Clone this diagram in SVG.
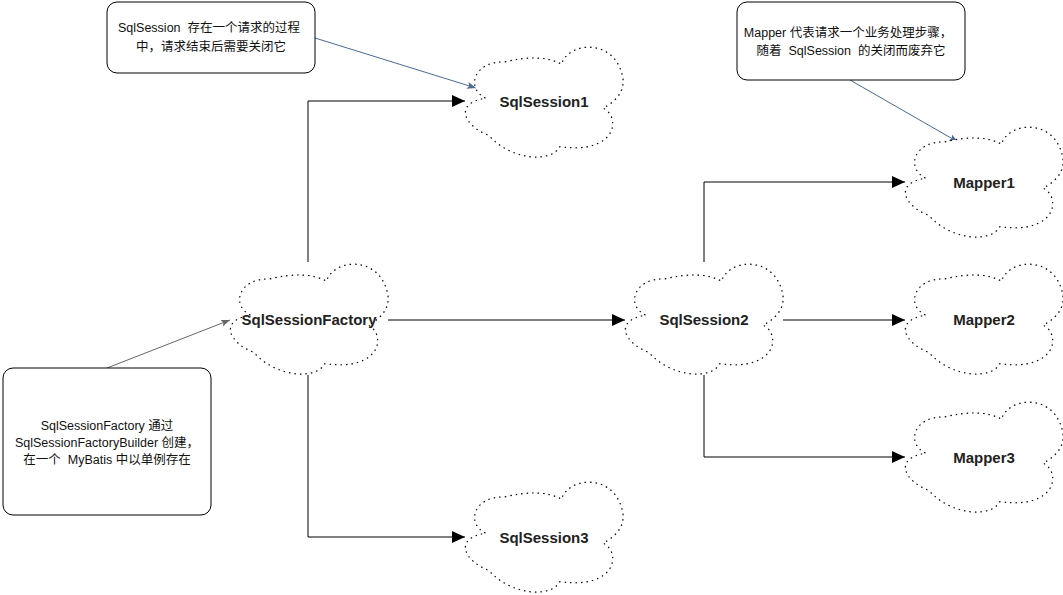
<svg xmlns="http://www.w3.org/2000/svg" width="1063" height="595" viewBox="0 0 1063 595">
<style>
.cloud{fill:#fff;stroke:#000;stroke-width:1.2;stroke-dasharray:1.5 4}
.lbl{font-family:"Liberation Sans","Noto Sans CJK SC",sans-serif;font-size:15px;font-weight:bold;fill:#222;text-anchor:middle}
.note rect{fill:#fff;stroke:#000;stroke-width:1}
.note text{font-family:"Liberation Sans","Noto Sans CJK SC",sans-serif;font-size:12.5px;fill:#111;text-anchor:middle;white-space:pre}
.conn{fill:none;stroke:#000;stroke-width:1}
</style>
<defs>
<path id="cloudShape" d="M20.5,53.1 C0,42.9 9.5,15.8 39.5,17 C63.2,11.3 82.2,11.3 96.4,19.2 C104.3,-4.5 151.7,-6.8 158,33.9 C159.6,50.9 145.4,58.8 138.3,63.3 C156.4,72.3 151.7,109.6 94.8,101.7 C86.9,117.5 47.4,116.4 23.7,90.4 C0,81.4 -12.6,58.8 20.5,53.1 Z"/>
<marker id="block" markerUnits="userSpaceOnUse" markerWidth="14" markerHeight="13" refX="13" refY="6" orient="auto">
<path d="M0,0 L13,6 L0,12 z" fill="#000"/>
</marker>
<marker id="blueArr" markerUnits="userSpaceOnUse" markerWidth="10" markerHeight="8" refX="9" refY="3.5" orient="auto">
<path d="M0,0 L9,3.5 L0,7 L2,3.5 z" fill="#4a6a94"/>
</marker>
<marker id="grayArr" markerUnits="userSpaceOnUse" markerWidth="10" markerHeight="8" refX="9" refY="3.5" orient="auto">
<path d="M0,0 L9,3.5 L0,7 L2,3.5 z" fill="#666"/>
</marker>
</defs>
<rect width="1063" height="595" fill="#fff"/>

<g id="connectors">
<path class="conn" d="M308,262 V101 H465" marker-end="url(#block)"/>
<path class="conn" d="M308,375 V537 H465" marker-end="url(#block)"/>
<path class="conn" d="M388,320 H625" marker-end="url(#block)"/>
<path class="conn" d="M704,262 V182 H905" marker-end="url(#block)"/>
<path class="conn" d="M783,320 H905" marker-end="url(#block)"/>
<path class="conn" d="M704,375 V457 H905" marker-end="url(#block)"/>
<path d="M315,38 L476,88" fill="none" stroke="#4a6a94" stroke-width="1" marker-end="url(#blueArr)"/>
<path d="M850,80 L958,142" fill="none" stroke="#4a6a94" stroke-width="1" marker-end="url(#blueArr)"/>
<path d="M107,368 L230,320" fill="none" stroke="#666" stroke-width="1" marker-end="url(#grayArr)"/>
</g>

<g id="SqlSessionFactory">
<use href="#cloudShape" class="cloud" transform="translate(230,262)"/>
<text class="lbl" x="309" y="325">SqlSessionFactory</text>
</g>
<g id="SqlSession1">
<use href="#cloudShape" class="cloud" transform="translate(465,45)"/>
<text class="lbl" x="544" y="107">SqlSession1</text>
</g>
<g id="SqlSession2">
<use href="#cloudShape" class="cloud" transform="translate(625,262)"/>
<text class="lbl" x="704" y="325">SqlSession2</text>
</g>
<g id="SqlSession3">
<use href="#cloudShape" class="cloud" transform="translate(465,480)"/>
<text class="lbl" x="544" y="543">SqlSession3</text>
</g>
<g id="Mapper1">
<use href="#cloudShape" class="cloud" transform="translate(905,125)"/>
<text class="lbl" x="984" y="188">Mapper1</text>
</g>
<g id="Mapper2">
<use href="#cloudShape" class="cloud" transform="translate(905,262)"/>
<text class="lbl" x="984" y="325">Mapper2</text>
</g>
<g id="Mapper3">
<use href="#cloudShape" class="cloud" transform="translate(905,400)"/>
<text class="lbl" x="984" y="463">Mapper3</text>
</g>

<g id="note-sqlsession" class="note">
<rect x="107" y="2" width="208" height="71" rx="10"/>
<text x="209" y="32" xml:space="preserve">SqlSession  存在一个请求的过程</text>
<text x="211" y="51">中，请求结束后需要关闭它</text>
</g>
<g id="note-mapper" class="note">
<rect x="737" y="2" width="228" height="78" rx="10"/>
<text x="848" y="37">Mapper 代表请求一个业务处理步骤，</text>
<text x="851" y="55" xml:space="preserve">随着  SqlSession  的关闭而废弃它</text>
</g>
<g id="note-factory" class="note">
<rect x="3" y="368" width="208" height="147" rx="10"/>
<text x="107" y="430">SqlSessionFactory 通过</text>
<text x="107" y="447">SqlSessionFactoryBuilder 创建，</text>
<text x="107" y="464" xml:space="preserve">在一个  MyBatis 中以单例存在</text>
</g>
</svg>
